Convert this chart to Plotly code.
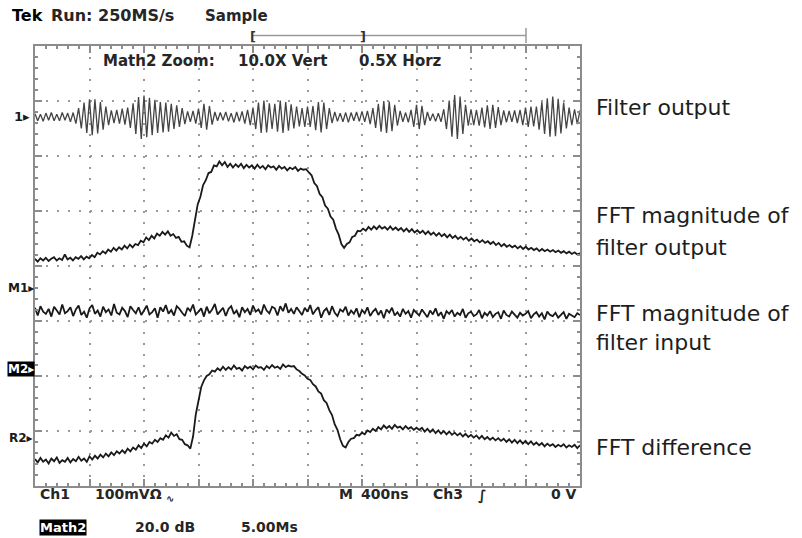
import plotly.graph_objects as go

W, H = 802, 538

# ---------------- data ----------------
# Ch1 "Filter output": values in mV about its ground marker, one sample every 0.05 div
ch1_filter_output_mv = [
    6, -7, 5, -8, 7, -6, 8, -7, 5, -7, 8, -6, 7, -9, 8,
    -12, 16, -21, 26, -29, 32, -33, 32, -30, 27, -23, 19, -15,
    12, -11, 13, -12, 15, -14, 17, -20, 25,
    -31, 36, -40, 39, -37, 35, -33, 31, -29,
    27, -28, 26, -27, 24, -22, 21, -18, 16, -13,
    10, -9, 11, -12, 15,
    -20, 24, -23, 20, -14,
    9, -7, 8, -6, 9, -8, 7, -10, 9, -8, 10, -12, 13, -15,
    17, -22, 26, -29, 30, -28, 25, -22, 24, -27, 30, -29, 27, -25, 23, -21, 19,
    -17, 16, -18, 19, -18, 20,
    -24, 27, -28, 26, -22, 16,
    -11, 9, -8, 7, -9, 8, -10, 8, -7, 9, -8, 10, -9, 11, -13, 16,
    -20, 24, -27, 29, -29, 28, -26, 22, -16,
    11, -9, 8, -10, 13,
    -18, 22, -22, 20, -15,
    9, -7, 6, -8, 7, -9, 14,
    -22, 30, -36, 40, -40, 37, -31, 22,
    -16, 14, -15, 13, -16, 17, -19,
    21, -22, 22, -20, 18, -15, 12,
    -10, 11, -9, 12, -11, 13, -15,
    17, -18, 19, -17, 19, -23,
    27, -31, 34, -36, 37, -35, 33, -30, 26, -21,
    17, -15, 14, -13, 12,
]
ch1_marker_div = 6.71
ch1_mv_per_div = 100

# FFT magnitude of filter output (screen divisions)
fft_filter_output_div = [
    4.13, 4.08, 4.14, 4.10, 4.15, 4.09, 4.13, 4.16, 4.10, 4.14, 4.11, 4.21, 4.12, 4.15, 4.10, 4.16, 4.13, 4.18, 4.12, 4.17, 4.14,
    4.20, 4.16, 4.24, 4.21, 4.27, 4.23, 4.30, 4.26,
    4.33, 4.28, 4.34, 4.30, 4.37, 4.32, 4.39, 4.34, 4.40,
    4.38, 4.46, 4.43, 4.52, 4.47, 4.55, 4.50, 4.59, 4.55, 4.62, 4.57,
    4.63, 4.55, 4.58, 4.51, 4.53, 4.44, 4.45, 4.37, 4.34,
    4.55, 4.83, 5.12, 5.26, 5.47, 5.56, 5.69, 5.71, 5.83, 5.81, 5.90,
    5.83, 5.89, 5.80, 5.86, 5.79, 5.85, 5.80, 5.86, 5.78, 5.84, 5.79, 5.83,
    5.77, 5.84, 5.78, 5.82, 5.76, 5.83, 5.79, 5.81, 5.75, 5.82, 5.77, 5.80, 5.74, 5.79, 5.76, 5.80, 5.73, 5.77, 5.75, 5.76, 5.70,
    5.65, 5.51, 5.45, 5.31, 5.25, 5.10, 5.04, 4.90, 4.84, 4.68, 4.57, 4.40, 4.33,
    4.40, 4.43, 4.53, 4.55, 4.64, 4.63,
    4.68, 4.64, 4.71, 4.66, 4.72, 4.67, 4.73, 4.68, 4.71, 4.66, 4.72,
    4.66, 4.70, 4.65, 4.69, 4.63, 4.68, 4.62, 4.67, 4.61, 4.65, 4.60,
    4.64, 4.58, 4.63, 4.57, 4.61, 4.55, 4.60, 4.54, 4.58, 4.52, 4.57, 4.51, 4.55, 4.49, 4.53,
    4.48, 4.52, 4.46, 4.50, 4.45, 4.48, 4.43, 4.47, 4.42, 4.45, 4.40, 4.44, 4.38, 4.42,
    4.36, 4.40, 4.35, 4.38, 4.34, 4.37, 4.32, 4.36, 4.31, 4.35, 4.30, 4.33, 4.29, 4.32, 4.27,
    4.31, 4.27, 4.30, 4.26, 4.29, 4.25, 4.28, 4.24, 4.27, 4.23, 4.26, 4.22, 4.25, 4.21, 4.23,
]

# FFT magnitude of filter input (screen divisions)
fft_filter_input_div = [
    3.24, 3.10, 3.27, 3.17, 3.13, 3.22, 3.08, 3.26, 3.19, 3.12, 3.30, 3.14, 3.18, 3.25, 3.09, 3.21, 3.28, 3.11, 3.17, 3.06,
    3.23, 3.29, 3.13, 3.19, 3.08, 3.26, 3.16, 3.21, 3.10, 3.31, 3.15, 3.12, 3.24, 3.18, 3.07, 3.27, 3.20, 3.14, 3.25, 3.11,
    3.19, 3.28, 3.12, 3.16, 3.23, 3.06, 3.25, 3.17, 3.29, 3.13, 3.20, 3.10, 3.27, 3.22, 3.15, 3.09, 3.24, 3.18, 3.30, 3.12,
    3.17, 3.23, 3.08, 3.26, 3.14, 3.21, 3.31, 3.12, 3.18, 3.24, 3.09, 3.22, 3.27, 3.13, 3.19, 3.07, 3.25, 3.16, 3.22, 3.11,
    3.28, 3.17, 3.21, 3.12, 3.30, 3.19, 3.14, 3.26, 3.23, 3.10, 3.27, 3.18, 3.32, 3.15, 3.22, 3.13, 3.25, 3.19, 3.11, 3.24,
    3.17, 3.29, 3.12, 3.20, 3.25, 3.06, 3.18, 3.23, 3.11, 3.27, 3.15, 3.09, 3.21, 3.17, 3.26, 3.10, 3.19, 3.13, 3.23, 3.07,
    3.20, 3.14, 3.25, 3.09, 3.17, 3.22, 3.11, 3.19, 3.05, 3.21, 3.15, 3.24, 3.10, 3.16, 3.08, 3.22, 3.13, 3.18, 3.06, 3.20,
    3.14, 3.10, 3.21, 3.15, 3.07, 3.19, 3.12, 3.23, 3.09, 3.16, 3.04, 3.18, 3.13, 3.20, 3.08, 3.15, 3.11, 3.22, 3.06, 3.14,
    3.17, 3.09, 3.12, 3.20, 3.05, 3.15, 3.10, 3.18, 3.07, 3.13, 3.16, 3.04, 3.19, 3.11, 3.08, 3.17, 3.12, 3.06, 3.15, 3.10,
    3.13, 3.18, 3.05, 3.12, 3.16, 3.08, 3.14, 3.03, 3.17, 3.11, 3.09, 3.15, 3.06, 3.12, 3.16, 3.04, 3.13, 3.10, 3.07, 3.14, 3.11,
]

# FFT difference (screen divisions)
fft_difference_div = [
    0.49, 0.43, 0.51, 0.44, 0.48, 0.41, 0.50, 0.45, 0.52, 0.42, 0.47, 0.44, 0.51, 0.43, 0.49, 0.45, 0.53, 0.46, 0.50, 0.44,
    0.54, 0.48, 0.55, 0.50, 0.57, 0.52, 0.59, 0.54, 0.61, 0.56, 0.63, 0.59, 0.65, 0.60, 0.68, 0.63, 0.70, 0.66, 0.74, 0.69,
    0.77, 0.72, 0.80, 0.77, 0.84, 0.80, 0.87, 0.84, 0.92, 0.88, 0.97,
    0.91, 0.94, 0.85, 0.84, 0.76, 0.74, 0.68,
    0.90, 1.30, 1.55, 1.80, 1.92, 2.00, 2.03, 2.10, 2.08, 2.14, 2.10,
    2.17, 2.11, 2.16, 2.12, 2.19, 2.13, 2.15, 2.10, 2.18, 2.14, 2.17, 2.12, 2.19, 2.15, 2.16, 2.11, 2.18, 2.14, 2.20, 2.15,
    2.17, 2.13, 2.21, 2.16, 2.19, 2.17,
    2.18, 2.12, 2.09, 2.04, 2.01, 1.95,
    1.93, 1.85, 1.81, 1.72, 1.68, 1.56, 1.51, 1.38, 1.29, 1.12, 1.02, 0.85, 0.73,
    0.70,
    0.80, 0.86, 0.87, 0.93, 0.92,
    0.97, 0.94, 1.01, 0.98, 1.04, 1.00, 1.07, 1.03, 1.10, 1.05, 1.09, 1.04, 1.11, 1.06, 1.08, 1.03, 1.09, 1.04, 1.07, 1.02, 1.06,
    1.02, 1.06, 0.99, 1.04, 0.98, 1.03, 0.96, 1.01, 0.95, 1.00, 0.94, 0.99, 0.93, 0.97, 0.92, 0.96, 0.90, 0.95, 0.89, 0.93,
    0.88, 0.92, 0.86, 0.91, 0.85, 0.89, 0.84, 0.88, 0.83, 0.87, 0.82, 0.86, 0.80, 0.85, 0.79, 0.84, 0.78, 0.83, 0.77, 0.82,
    0.76, 0.81, 0.75, 0.79, 0.74, 0.78, 0.72, 0.77, 0.73, 0.76, 0.71, 0.75, 0.72, 0.76, 0.70, 0.74, 0.71, 0.75, 0.69, 0.74,
]

N_DIV_X, N_DIV_Y = 10, 8

# ---------------- figure ----------------
def xs(vals):
    n = len(vals)
    return [N_DIV_X * k / (n - 1) for k in range(n)]

fig = go.Figure()
ch1_screen = [ch1_marker_div + v / ch1_mv_per_div for v in ch1_filter_output_mv]
fig.add_trace(go.Scatter(x=xs(ch1_screen), y=ch1_screen, mode="lines",
                         line=dict(color="#444444", width=1.3), hoverinfo="skip"))
for series in (fft_filter_output_div, fft_filter_input_div, fft_difference_div):
    fig.add_trace(go.Scatter(x=xs(series), y=series, mode="lines",
                             line=dict(color="#1a1a1a", width=1.8), hoverinfo="skip"))

L, R, T, B = 35, 580, 46, 486
GRID = "#9a9a9a"
FRAME = "#8c8c8c"

common = dict(showgrid=True, gridcolor=GRID, gridwidth=1.5, griddash="2px,9px",
              zeroline=False, showline=True, linecolor=FRAME, linewidth=2,
              mirror="allticks", ticks="inside", ticklen=7, tickwidth=1.5,
              tickcolor=FRAME, showticklabels=False, fixedrange=True)

fig.update_layout(
    width=W, height=H, margin=dict(l=0, r=0, t=0, b=0),
    paper_bgcolor="white", plot_bgcolor="white", showlegend=False,
    xaxis=dict(domain=[L / W, R / W], range=[0, N_DIV_X], tick0=0, dtick=1,
               minor=dict(dtick=0.2, ticks="inside", ticklen=3, tickwidth=1.5,
                          tickcolor=FRAME, showgrid=False), **common),
    yaxis=dict(domain=[1 - B / H, 1 - T / H], range=[0, N_DIV_Y], tick0=0, dtick=1,
               minor=dict(dtick=0.2, ticks="inside", ticklen=3, tickwidth=1.5,
                          tickcolor=FRAME, showgrid=False), **common),
)


def ann(text, x, y, size=15, color="#1c1c1c", bold=True, family="DejaVu Sans",
        xanchor="left", bg=None, fcolor=None):
    d = dict(text=text, x=x / W, y=1 - y / H, xref="paper", yref="paper",
             xanchor=xanchor, yanchor="middle", showarrow=False, borderpad=0,
             font=dict(family=family, size=size, color=fcolor or color,
                       weight="bold" if bold else "normal"))
    if bg:
        d["bgcolor"] = bg
    return d


anns = [
    ann("Tek", 11, 16, size=16, color="#000"),
    ann("Run: 250MS/s", 50, 16, size=16, color="#262626"),
    ann("Sample", 204, 16, size=15, color="#262626"),
    ann("[", 249, 36, size=13, color="#333"),
    ann("]", 359, 36, size=13, color="#333"),
    ann("Math2 Zoom:", 102, 61, size=15, color="#262626"),
    ann("10.0X Vert", 237, 61, size=15, color="#262626"),
    ann("0.5X Horz", 358, 61, size=15, color="#262626"),
    # channel markers
    ann("1▸", 13, 117, size=13, color="#1a1a1a"),
    ann("M1▸", 7, 288, size=12, color="#1a1a1a"),
    ann("M2▸", 7, 369, size=12, color="#000", bg="#000", fcolor="#fff"),
    ann("R2▸", 8, 438, size=12, color="#1a1a1a"),
    # bottom readouts
    ann("Ch1", 39, 494, size=14, color="#262626"),
    ann("100mVΩ", 94, 494, size=14, color="#262626"),
    ann("∿", 165, 498, size=10, color="#262626"),
    ann("M", 338, 494, size=14, color="#262626"),
    ann("400ns", 360, 494, size=14, color="#262626"),
    ann("Ch3", 432, 494, size=14, color="#262626"),
    ann("∫", 477, 495, size=14, color="#262626"),
    ann("0 V", 550, 494, size=14, color="#262626"),
    ann("Math2", 39, 527, size=13, color="#000", bg="#000", fcolor="#fff"),
    ann("20.0 dB", 134, 527, size=14, color="#262626"),
    ann("5.00Ms", 240, 527, size=14, color="#262626"),
    # right-hand labels
    ann("Filter output", 595, 107, size=22, bold=False, color="#1e1e1e"),
    ann("FFT magnitude of", 595, 215, size=22, bold=False, color="#1e1e1e"),
    ann("filter output", 595, 248, size=22, bold=False, color="#1e1e1e"),
    ann("FFT magnitude of", 595, 313, size=22, bold=False, color="#1e1e1e"),
    ann("filter input", 595, 342, size=22, bold=False, color="#1e1e1e"),
    ann("FFT difference", 595, 447, size=22, bold=False, color="#1e1e1e"),
]
fig.update_layout(annotations=anns)

# record-position bar above the graticule
def pline(x0, y0, x1, y1, color="#9a9a9a", width=1.5):
    return dict(type="line", xref="paper", yref="paper",
                x0=x0 / W, y0=1 - y0 / H, x1=x1 / W, y1=1 - y1 / H,
                line=dict(color=color, width=width))

fig.update_layout(shapes=[
    pline(253, 35.5, 526, 35.5),
    pline(526, 28, 526, 43),
])

fig.write_html("out.html")
